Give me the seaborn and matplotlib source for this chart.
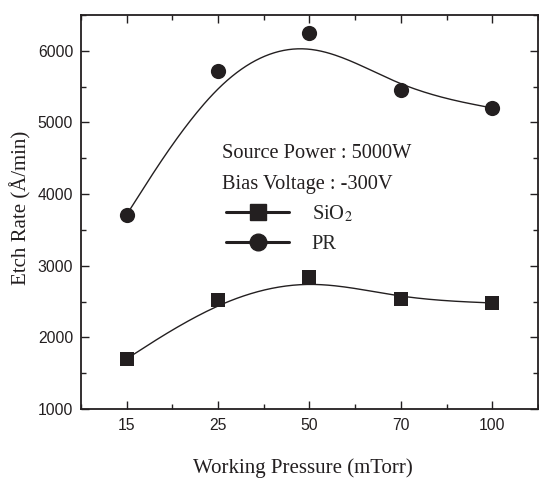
import numpy as np
import pandas as pd
import matplotlib
matplotlib.use('Agg')
import matplotlib.pyplot as plt
from matplotlib.lines import Line2D
from matplotlib.ticker import MultipleLocator
import seaborn as sns

pressure = ['15', '25', '50', '70', '100']
sio2_rate = [1700, 2520, 2845, 2535, 2480]
pr_rate = [3710, 5710, 6240, 5450, 5200]

sns.set_style('ticks')
plt.rcParams['font.family'] = ['Liberation Sans', 'DejaVu Sans']
plt.rcParams['mathtext.fontset'] = 'stix'
ink = '#231f20'


def bspline(px, py, n=40):
    # uniform cubic B-spline, end points repeated so the curve starts/ends on them
    px = np.r_[[px[0]] * 2, px, [px[-1]] * 2]
    py = np.r_[[py[0]] * 2, py, [py[-1]] * 2]
    t = np.linspace(0, 1, n)
    b = np.array([(1 - t) ** 3, 3 * t ** 3 - 6 * t ** 2 + 4,
                  -3 * t ** 3 + 3 * t ** 2 + 3 * t + 1, t ** 3]) / 6
    xs, ys = [], []
    for i in range(len(px) - 3):
        xs.append(b.T @ px[i:i + 4])
        ys.append(b.T @ py[i:i + 4])
    return np.concatenate(xs), np.concatenate(ys)


pos = np.arange(len(pressure), dtype=float)
df = pd.DataFrame({'pos': pos, 'SiO2': sio2_rate, 'PR': pr_rate})

fx, fy_pr = bspline(pos, np.array(pr_rate, float))
_, fy_si = bspline(pos, np.array(sio2_rate, float))
fit = pd.DataFrame({'pos': fx, 'PR': fy_pr, 'SiO2': fy_si})

fig = plt.figure(figsize=(5.39, 4.79), dpi=100)
ax = fig.add_axes([0.150, 0.146, 0.848, 0.823])

sns.lineplot(data=fit, x='pos', y='PR', color=ink, lw=1.0, sort=False, estimator=None, ax=ax)
sns.lineplot(data=fit, x='pos', y='SiO2', color=ink, lw=1.0, sort=False, estimator=None, ax=ax)
sns.scatterplot(data=df, x='pos', y='PR', marker='o', s=120, color=ink,
                edgecolor=ink, linewidth=0, ax=ax)
sns.scatterplot(data=df, x='pos', y='SiO2', marker='s', s=100, color=ink,
                edgecolor=ink, linewidth=0, ax=ax)

ax.set_xlim(-0.5, 4.5)
ax.set_ylim(1000, 6500)
ax.set_xticks(range(len(pressure)))
ax.set_xticklabels(pressure)
ax.xaxis.set_minor_locator(MultipleLocator(0.5))
ax.yaxis.set_major_locator(MultipleLocator(1000))
ax.yaxis.set_minor_locator(MultipleLocator(500))
ax.tick_params(which='both', direction='in', top=True, right=True,
               labeltop=False, labelright=False, color=ink, width=1.0,
               labelsize=11.3, labelcolor=ink)
ax.tick_params(which='major', length=6)
ax.tick_params(which='minor', length=3.5)
ax.tick_params(axis='x', which='major', pad=6.5)
ax.tick_params(axis='y', which='major', pad=5.5)
for s in ax.spines.values():
    s.set_linewidth(1.3)
    s.set_color(ink)

serif = ['Liberation Serif', 'DejaVu Serif']
ax.set_xlabel('Working Pressure (mTorr)', family=serif, fontsize=15, color=ink)
ax.set_ylabel('Etch Rate (Å/min)', family=serif, fontsize=15, color=ink)
ax.xaxis.set_label_coords(0.485, -0.124)
ax.yaxis.set_label_coords(-0.107, 0.51)

ax.text(0.309, 0.636, 'Source Power : 5000W', transform=ax.transAxes,
        family=serif, fontsize=14.7, color=ink)
ax.text(0.309, 0.559, 'Bias Voltage : -300V', transform=ax.transAxes,
        family=serif, fontsize=14.7, color=ink)

handles = [Line2D([], [], color=ink, lw=2.2, marker='s', markersize=11),
           Line2D([], [], color=ink, lw=2.2, marker='o', markersize=12)]
ax.legend(handles, ['SiO$_2$', 'PR'], loc='upper left', bbox_to_anchor=(0.3, 0.542),
          frameon=False, handlelength=3.1, handletextpad=1.1, labelspacing=0.5,
          borderaxespad=0, prop={'family': serif, 'size': 14.7})

fig.savefig('out.png', dpi=100)
